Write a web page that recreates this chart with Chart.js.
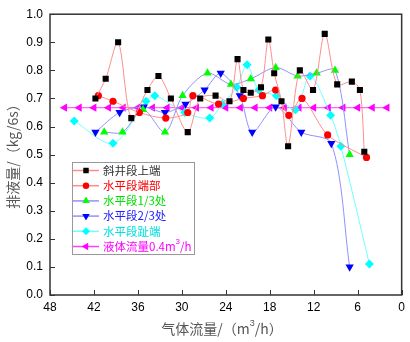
<!DOCTYPE html>
<html><head><meta charset="utf-8">
<script src="https://cdn.jsdelivr.net/npm/chart.js@4/dist/chart.umd.min.js"></script>
<style>html,body{margin:0;padding:0;background:#fff}#wrap{width:410px;height:342px}</style>
</head><body><div id="wrap"><canvas id="c" width="410" height="342"></canvas></div>
<script>
const seriesNames = ['斜井段上端','水平段端部','水平段1/3处','水平段2/3处','水平段趾端','液体流量0.4m³/h'];
const xTicks = [48,42,36,30,24,18,12,6,0];

const blackX = [41.8,40.4,38.7,36.9,34.7,33.2,31.5,29.2,27.5,25.4,23.5,22.4,21.6,20.6,19.2,18.2,17.4,16.4,15.5,13.9,12.1,10.5,8.8,6.8,5.7,5.1];
const blackY = [0.70,0.77,0.90,0.63,0.73,0.78,0.70,0.58,0.70,0.71,0.69,0.84,0.73,0.72,0.74,0.91,0.79,0.69,0.53,0.80,0.73,0.93,0.75,0.76,0.73,0.51];

const redX = [41.4,39.4,35.8,32.2,29.2,28.5,25.0,21.6,19.0,17.2,15.4,13.6,10.1,4.8];
const redY = [0.71,0.69,0.65,0.63,0.65,0.71,0.68,0.70,0.71,0.73,0.64,0.70,0.57,0.49];

const greenX = [40.6,38.1,35.3,32.3,29.9,26.5,23.3,20.6,17.2,14.2,11.6,9.1,7.1];
const greenY = [0.58,0.58,0.66,0.58,0.71,0.79,0.75,0.77,0.81,0.78,0.79,0.80,0.50];

const blueX = [41.8,38.5,35.2,32.3,29.5,26.9,24.7,22.1,20.4,17.2,13.7,9.6,7.1];
const blueY = [0.58,0.65,0.67,0.65,0.68,0.73,0.79,0.71,0.58,0.67,0.58,0.54,0.10];

const cyanX = [44.7,39.4,34.9,33.7,29.6,26.2,24.5,22.5,21.1,19.5,17.1,14.5,12.5,9.7,8.3,4.4];
const cyanY = [0.62,0.54,0.69,0.71,0.65,0.63,0.68,0.74,0.82,0.73,0.71,0.66,0.78,0.64,0.53,0.11];

const magX = [46,44,42,40,38,36,34,32,30,28,26,24,22,20,18,16,14,12,10,8,6,4,2];
const magY = [0.667,0.667,0.667,0.667,0.667,0.667,0.667,0.667,0.667,0.667,0.667,0.667,0.667,0.667,0.667,0.667,0.667,0.667,0.667,0.667,0.667,0.667,0.667];

const pts = (xs, ys) => xs.map((x, i) => ({x: x, y: ys[i]}));

const styles = [
  {xs: blackX, ys: blackY, pc: '#000000', lc: '#FF8C8C', ps: 'rect', r: 4.3, rot: 0, tc: '#333333'},
  {xs: redX, ys: redY, pc: '#FF0000', lc: '#FF8C8C', ps: 'circle', r: 3.6, rot: 0, tc: '#FF0000'},
  {xs: greenX, ys: greenY, pc: '#00FF00', lc: '#9090FF', ps: 'triangle', r: 4.8, rot: 0, tc: '#00E000'},
  {xs: blueX, ys: blueY, pc: '#0000FF', lc: '#9090FF', ps: 'triangle', r: 4.8, rot: 180, tc: '#2020FF'},
  {xs: cyanX, ys: cyanY, pc: '#00FFFF', lc: '#70FFFF', ps: 'rectRot', r: 4.5, rot: 0, tc: '#00E0E0'},
  {xs: magX, ys: magY, pc: '#FF00FF', lc: '#FF40FF', ps: 'triangle', r: 4.8, rot: 270, tc: '#FF00FF'}
];

const datasets = styles.map((s, i) => ({
  label: seriesNames[i],
  data: pts(s.xs, s.ys),
  borderColor: s.lc,
  borderWidth: 1,
  backgroundColor: s.pc,
  pointBackgroundColor: s.pc,
  pointBorderColor: s.pc,
  pointBorderWidth: 0,
  pointStyle: s.ps,
  pointRadius: s.r,
  pointRotation: s.rot,
  tension: i === 5 ? 0 : 0.3,
  fill: false
}));

function drawMarker(ctx, ps, x, y, r, rot, color) {
  ctx.save();
  ctx.translate(x, y);
  ctx.rotate(rot * Math.PI / 180);
  ctx.fillStyle = color;
  ctx.beginPath();
  if (ps === 'circle') {
    ctx.arc(0, 0, r, 0, Math.PI * 2);
  } else if (ps === 'rect') {
    const s = r / Math.SQRT2;
    ctx.rect(-s, -s, 2 * s, 2 * s);
  } else if (ps === 'triangle') {
    const w = r * Math.sqrt(3) / 2;
    ctx.moveTo(0, -r);
    ctx.lineTo(w, r / 2);
    ctx.lineTo(-w, r / 2);
    ctx.closePath();
  } else if (ps === 'rectRot') {
    ctx.moveTo(0, -r); ctx.lineTo(r, 0); ctx.lineTo(0, r); ctx.lineTo(-r, 0); ctx.closePath();
  }
  ctx.fill();
  ctx.restore();
}

const LFONT = '11.5px "Noto Sans CJK SC", "Liberation Sans", sans-serif';

const framePlugin = {
  id: 'frame',
  afterDraw(chart) {
    const ctx = chart.ctx, a = chart.chartArea;
    const xs = chart.scales.x, ys = chart.scales.y;
    ctx.save();
    ctx.strokeStyle = '#333333';
    ctx.lineWidth = 1.5;
    ctx.strokeRect(a.left, a.top, a.right - a.left, a.bottom - a.top);
    ctx.lineWidth = 1;
    ctx.beginPath();
    xTicks.forEach(v => {
      const px = Math.round(xs.getPixelForValue(v)) + 0.5;
      ctx.moveTo(px, a.bottom); ctx.lineTo(px, a.bottom - 5);
    });
    for (let k = 0; k <= 10; k++) {
      const py = Math.round(ys.getPixelForValue(k / 10)) + 0.5;
      ctx.moveTo(a.left, py); ctx.lineTo(a.left + 5, py);
    }
    ctx.stroke();

    // legend
    const lx = 72, ly = 162, lw = 122, lh = 92;
    ctx.fillStyle = '#ffffff';
    ctx.fillRect(lx, ly, lw, lh);
    ctx.strokeStyle = '#999999';
    ctx.lineWidth = 1;
    ctx.strokeRect(lx + 0.5, ly + 0.5, lw, lh);
    ctx.font = LFONT;
    ctx.textBaseline = 'middle';
    styles.forEach((s, i) => {
      const cy = ly + 8.5 + i * 15.2;
      ctx.strokeStyle = s.lc;
      ctx.lineWidth = 1.5;
      ctx.beginPath();
      ctx.moveTo(lx + 1, cy); ctx.lineTo(lx + 27, cy);
      ctx.stroke();
      drawMarker(ctx, s.ps, lx + 14, cy, s.r * 0.9, s.rot, s.pc);
      ctx.fillStyle = s.tc;
      const tx = lx + 31;
      if (i === 5) {
        const base = '液体流量0.4m';
        ctx.fillText(base, tx, cy);
        const w = ctx.measureText(base).width;
        ctx.font = '8px "Liberation Sans", sans-serif';
        ctx.fillText('3', tx + w, cy - 5);
        ctx.font = LFONT;
        ctx.fillText('/h', tx + w + 4.5, cy);
      } else {
        ctx.fillText(seriesNames[i], tx, cy);
      }
    });

    // axis titles
    ctx.fillStyle = '#555555';
    ctx.font = '14px "Noto Sans CJK SC", sans-serif';
    ctx.textBaseline = 'middle';
    ctx.textAlign = 'left';
    const t1 = '气体流量/（m', t2 = '/h）';
    const w1 = ctx.measureText(t1).width;
    ctx.font = '9px "Liberation Sans", sans-serif';
    const w3 = ctx.measureText('3').width;
    ctx.font = '14px "Noto Sans CJK SC", sans-serif';
    const w2 = ctx.measureText(t2).width;
    let sx = 222 - (w1 + w3 + w2) / 2;
    ctx.fillText(t1, sx, 329);
    ctx.font = '9px "Liberation Sans", sans-serif';
    ctx.fillText('3', sx + w1, 324);
    ctx.font = '14px "Noto Sans CJK SC", sans-serif';
    ctx.fillText(t2, sx + w1 + w3, 329);

    ctx.save();
    ctx.translate(13, 153);
    ctx.rotate(-Math.PI / 2);
    ctx.textAlign = 'center';
    ctx.fillText('排液量/（kg/6s）', 0, 0);
    ctx.restore();
    ctx.restore();
  }
};

new Chart(document.getElementById('c'), {
  type: 'line',
  data: {datasets: datasets},
  options: {
    responsive: false,
    animation: false,
    devicePixelRatio: 1,
    layout: {padding: {left: 0, right: 8, top: 12, bottom: 0}},
    plugins: {legend: {display: false}, tooltip: {enabled: false}},
    scales: {
      x: {
        type: 'linear', reverse: true, min: 0, max: 48,
        afterFit(s) { s.height = 47; },
        afterBuildTicks(s) { s.ticks = xTicks.map(v => ({value: v})); },
        grid: {display: false, drawTicks: false},
        border: {display: false},
        ticks: {color: '#000', padding: 5, font: {size: 12, family: '"Liberation Sans", Arial, sans-serif'}, maxRotation: 0}
      },
      y: {
        type: 'linear', min: 0, max: 1,
        afterFit(s) { s.width = 50; },
        grid: {display: false, drawTicks: false},
        border: {display: false},
        ticks: {stepSize: 0.1, color: '#000', padding: 7, font: {size: 12, family: '"Liberation Sans", Arial, sans-serif'},
          callback: v => Number(v).toFixed(1)}
      }
    }
  },
  plugins: [framePlugin]
});
</script>
</body></html>
